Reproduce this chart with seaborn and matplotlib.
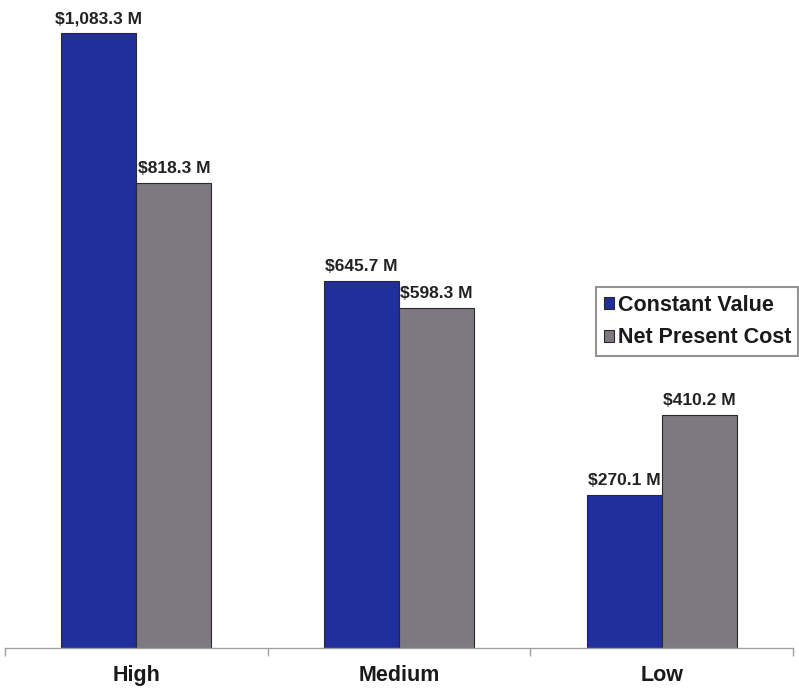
import matplotlib
matplotlib.use("Agg")
import matplotlib.pyplot as plt
import seaborn as sns
import pandas as pd

# Cost scenarios (millions of dollars)
scenarios = ["High", "Medium", "Low"]
constant_value = [1083.3, 645.7, 270.1]
net_present_cost = [818.3, 598.3, 410.2]
series_names = ["Constant Value", "Net Present Cost"]
colors = ["#1f2f9c", "#7e7981"]

df = pd.DataFrame({
    "Scenario": scenarios * 2,
    "Series": [series_names[0]] * 3 + [series_names[1]] * 3,
    "Value": constant_value + net_present_cost,
})

sns.set_theme(style="white")
plt.rcParams["font.family"] = ["Liberation Sans", "DejaVu Sans"]

fig = plt.figure(figsize=(7.99, 6.88), dpi=100)
ax = fig.add_axes([5 / 799, 40 / 688, 788 / 799, 648 / 688])

sns.barplot(data=df, x="Scenario", y="Value", hue="Series", order=scenarios,
            hue_order=series_names, palette=colors, width=0.57, saturation=1,
            edgecolor="#2a2a2a", linewidth=0.8, ax=ax)

ax.set_xlim(-0.5, 2.5)
ax.set_ylim(0, 1141.4)
ax.set_xlabel("")
ax.set_ylabel("")
ax.set_yticks([])

for side in ["top", "left", "right"]:
    ax.spines[side].set_visible(False)
ax.spines["bottom"].set_color("#a0a0a0")
ax.spines["bottom"].set_linewidth(1.0)

ax.set_xticks([-0.5, 0.5, 1.5, 2.5], minor=True)
ax.tick_params(axis="x", which="minor", length=6, color="#a0a0a0", width=1, direction="out", bottom=True)
ax.tick_params(axis="x", which="major", length=0, pad=12, labelsize=15.5)
for lbl in ax.get_xticklabels():
    lbl.set_fontweight("bold")
    lbl.set_color("#1a1a1a")

# value labels above each bar
for container in ax.containers:
    labels = [f"${v:,.1f} M" for v in container.datavalues]
    ax.bar_label(container, labels=labels, padding=5, fontsize=12.5,
                 fontweight="bold", color="#222222", clip_on=False)

leg = ax.legend(loc="upper left", bbox_to_anchor=(596 / 799, 1 - 287 / 688),
                bbox_transform=fig.transFigure, frameon=True, fancybox=False,
                fontsize=15.5, handlelength=0.5, handleheight=0.5,
                handletextpad=0.15, borderpad=0.35, labelspacing=0.55,
                borderaxespad=0)
leg.get_frame().set_edgecolor("#7a7a7a")
leg.get_frame().set_linewidth(1.5)
for t in leg.get_texts():
    t.set_fontweight("bold")
    t.set_color("#1a1a1a")

fig.savefig("out.png", dpi=100)
